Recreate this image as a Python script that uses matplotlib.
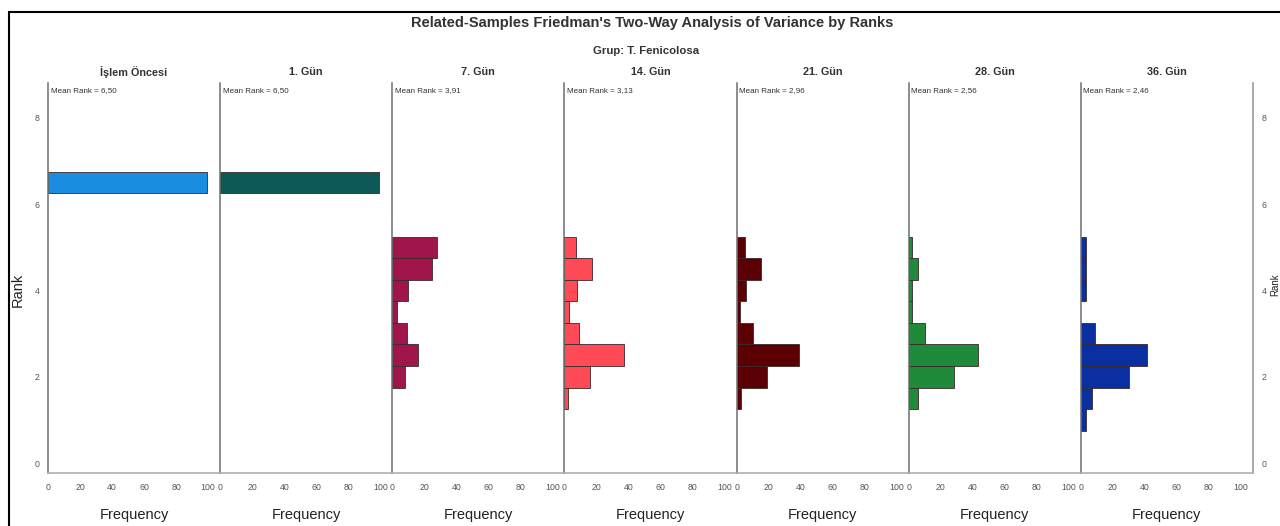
import matplotlib.pyplot as plt
from matplotlib.patches import Rectangle

# Friedman test: rank histograms per time point
panel_titles = ["İşlem Öncesi", "1. Gün", "7. Gün", "14. Gün", "21. Gün", "28. Gün", "36. Gün"]
mean_ranks = ["6,50", "6,50", "3,91", "3,13", "2,96", "2,56", "2,46"]
rank_bins = [1.0, 1.5, 2.0, 2.5, 3.0, 3.5, 4.0, 4.5, 5.0, 6.5]

islem_oncesi = [0, 0, 0, 0, 0, 0, 0, 0, 0, 99]
gun_1 = [0, 0, 0, 0, 0, 0, 0, 0, 0, 99]
gun_7 = [0, 0, 8, 16, 9, 3, 10, 25, 28, 0]
gun_14 = [0, 2, 16, 37, 9, 3, 8, 17, 7, 0]
gun_21 = [0, 3, 19, 39, 10, 2, 6, 15, 5, 0]
gun_28 = [0, 6, 28, 43, 10, 2, 2, 6, 2, 0]
gun_36 = [3, 7, 30, 41, 9, 0, 3, 3, 3, 0]

counts = [islem_oncesi, gun_1, gun_7, gun_14, gun_21, gun_28, gun_36]
colors = ["#1a8de0", "#0c5a58", "#a0154c", "#ff4b55", "#5a0004", "#1f8a3a", "#0a2fa0"]

x_ticks = [0, 20, 40, 60, 80, 100]
y_ticks = [0, 2, 4, 6, 8]

W, H = 1280, 526
fig = plt.figure(figsize=(W / 100, H / 100), dpi=100)
fam = ["Liberation Sans", "DejaVu Sans"]

left_px, right_px, top_px, bottom_px = 48, 1253, 83, 473
pw = (right_px - left_px) / len(counts)
ax_h = (bottom_px - top_px) / H

axes = []
for i, (title, mr, vals, col) in enumerate(zip(panel_titles, mean_ranks, counts, colors)):
    ax = fig.add_axes([(left_px + i * pw) / W, 1 - bottom_px / H, pw / W, ax_h])
    axes.append(ax)
    ranks = [r for r, v in zip(rank_bins, vals) if v > 0]
    widths = [v for v in vals if v > 0]
    ax.barh(ranks, widths, height=0.5, color=col, edgecolor="#3a2a2a", linewidth=0.6)
    ax.set_xlim(0, 107.5)
    ax.set_ylim(-0.23, 8.81)
    ax.set_xticks(x_ticks)
    ax.set_xticklabels([str(t) for t in x_ticks], fontsize=6.3, color="#555555", family=fam)
    ax.tick_params(axis="x", length=0, pad=7)
    ax.set_yticks(y_ticks)
    ax.tick_params(axis="y", length=0, pad=6, labelsize=6.3, labelcolor="#555555")
    if i == 0:
        ax.tick_params(axis="y", labelleft=True, labelright=False)
    elif i == len(counts) - 1:
        ax.tick_params(axis="y", labelleft=False, labelright=True)
    else:
        ax.tick_params(axis="y", labelleft=False)
    for side in ["top", "right"]:
        ax.spines[side].set_visible(False)
    if i == len(counts) - 1:
        ax.spines["right"].set_visible(True)
        ax.spines["right"].set_color("#9a9a9a")
        ax.spines["right"].set_linewidth(1.2)
    ax.spines["left"].set_color("#6e6e6e")
    ax.spines["left"].set_linewidth(1.1)
    ax.spines["bottom"].set_color("#b0b0b0")
    ax.spines["bottom"].set_linewidth(1.2)

    ax.text(0.5, (bottom_px - 72) / (bottom_px - top_px), title, transform=ax.transAxes,
            ha="center", va="center", fontsize=7.8, fontweight="bold", color="#333333",
            family=fam)
    ax.text(0.015, (bottom_px - 91) / (bottom_px - top_px), f"Mean Rank = {mr}",
            transform=ax.transAxes, ha="left", va="center", fontsize=5.8,
            color="#333333", family=fam)
    ax.text(0.5, (bottom_px - 515) / (bottom_px - top_px), "Frequency", transform=ax.transAxes,
            ha="center", va="center", fontsize=10.5, color="#222222", family=fam)

for lab in axes[0].get_yticklabels() + axes[-1].get_yticklabels():
    lab.set_family(fam)

fig.text(652 / W, 1 - 23 / H, "Related-Samples Friedman's Two-Way Analysis of Variance by Ranks",
         ha="center", va="center", fontsize=10.5, fontweight="bold", color="#333333", family=fam)
fig.text(646 / W, 1 - 51 / H, "Grup: T. Fenicolosa", ha="center", va="center",
         fontsize=8.2, fontweight="bold", color="#333333", family=fam)
fig.text(18 / W, 1 - 290 / H, "Rank", rotation=90, ha="center", va="center",
         fontsize=10.5, color="#222222", family=fam)
fig.text(1275 / W, 1 - 285 / H, "Rank", rotation=90, ha="center", va="center",
         fontsize=7, color="#222222", family=fam)

# outer frame, cut off at the right and bottom edges
fig.add_artist(Rectangle((9 / W, -0.1), 1.2, 1.1 - 12 / H, transform=fig.transFigure,
                         fill=False, edgecolor="black", linewidth=1.5, clip_on=False))

fig.savefig("out.png", dpi=100)
